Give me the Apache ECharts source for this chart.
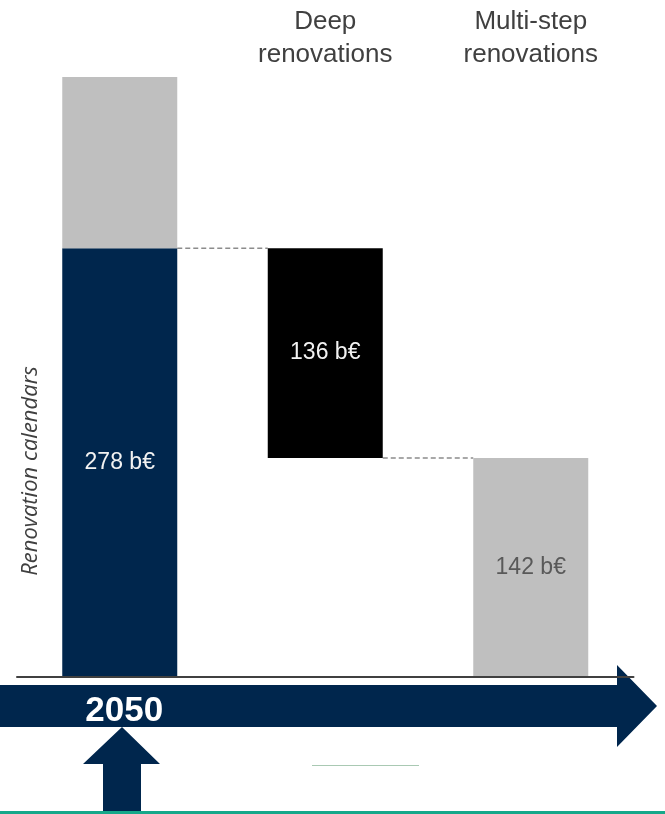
<!DOCTYPE html>
<html>
<head>
<meta charset="utf-8">
<script src="https://cdn.jsdelivr.net/npm/echarts@6/dist/echarts.min.js"></script>
<style>html,body{margin:0;padding:0;background:#fff}#c{width:665px;height:814px}</style>
</head>
<body>
<div id="c"></div>
<script>
// ---- data ----
const categories = ['2050', 'Deep\nrenovations', 'Multi-step\nrenovations'];
const bottomLabels = ['2050', '', ''];
const topLabels = ['', 'Deep\nrenovations', 'Multi-step\nrenovations'];
const calendar2050 = 278;      // b€
const calendarExtra = 111;     // grey cap above 2050 bar (unlabelled)
const deepRenov = 136;         // b€
const multiStep = 142;         // b€
const yAxisName = 'Renovation calendars';

// ---- derived series ----
const placeholder = [0, multiStep, 0];
const navyData = [calendar2050, '-', '-'];
const capData = [calendarExtra, '-', '-'];
const blackData = ['-', deepRenov, '-'];
const greyData = ['-', '-', multiStep];
const connectors = [[0, calendar2050], [1, multiStep]];

const BAR_W = 115;
const chart = echarts.init(document.getElementById('c'), null, {renderer: 'canvas'});

const labelBase = {show: true, position: 'inside', formatter: '{c} b€', fontSize: 23,
  fontFamily: 'Liberation Sans, Arial, sans-serif'};

chart.setOption({
  animation: false,
  backgroundColor: '#ffffff',
  grid: {left: 17, width: 616.5, top: 60, bottom: 137, containLabel: false},
  xAxis: [
    {type: 'category', data: bottomLabels, position: 'bottom', z: 10,
      axisLine: {show: true, lineStyle: {color: '#404040', width: 2}},
      axisTick: {show: false},
      axisLabel: {color: '#ffffff', fontSize: 35, fontWeight: 'bold', lineHeight: 35,
        fontFamily: 'Liberation Sans, Arial, sans-serif', margin: 17, padding: [0, 0, 0, 9]}},
    {type: 'category', data: topLabels, position: 'top', offset: -11,
      axisLine: {show: false}, axisTick: {show: false},
      axisLabel: {color: '#404040', fontSize: 26, lineHeight: 33, margin: 0,
        fontFamily: 'Liberation Sans, Arial, sans-serif'}}
  ],
  yAxis: {type: 'value', min: 0, max: 400, show: true,
    axisLine: {show: false}, axisTick: {show: false}, axisLabel: {show: false}, splitLine: {show: false}},
  series: [
    {type: 'bar', stack: 'w', barWidth: BAR_W, data: placeholder, itemStyle: {color: 'rgba(0,0,0,0)'}, silent: true},
    {type: 'bar', stack: 'w', barWidth: BAR_W, data: navyData, itemStyle: {color: '#00264D'},
      label: Object.assign({}, labelBase, {color: '#F2F2F2'})},
    {type: 'bar', stack: 'w', barWidth: BAR_W, data: blackData, itemStyle: {color: '#000000'},
      label: Object.assign({}, labelBase, {color: '#F2F2F2'})},
    {type: 'bar', stack: 'w', barWidth: BAR_W, data: greyData, itemStyle: {color: '#BFBFBF'},
      label: Object.assign({}, labelBase, {color: '#595959'})},
    {type: 'bar', stack: 'w', barWidth: BAR_W, data: capData, itemStyle: {color: '#BFBFBF'}},
    {type: 'custom', data: connectors, z: 1,
      renderItem: function (params, api) {
        const p = api.coord([api.value(0), api.value(1)]);
        const band = api.size([1, 0])[0];
        const x1 = p[0] + BAR_W / 2, x2 = p[0] + band - BAR_W / 2;
        return {type: 'line', shape: {x1: x1, y1: p[1], x2: x2, y2: p[1]},
          style: {stroke: '#8c8c8c', lineWidth: 1.5, lineDash: [5, 3]}};
      }}
  ],
  graphic: [
    {type: 'polygon', z: 1, shape: {points: [[0, 685], [617, 685], [617, 665], [657, 706], [617, 747], [617, 727], [0, 727]]},
      style: {fill: '#00264D'}},
    {type: 'polygon', z: 1, shape: {points: [[83, 764], [122, 727], [160, 764], [141, 764], [141, 814], [103, 814], [103, 764]]},
      style: {fill: '#00264D'}},
    {type: 'line', z: 1, shape: {x1: 312, y1: 765.5, x2: 419, y2: 765.5}, style: {stroke: '#a9c9b3', lineWidth: 1}},
    {type: 'rect', z: 1, shape: {x: 0, y: 811, width: 665, height: 3}, style: {fill: '#16A88A'}},
    {type: 'text', z: 5, x: 31, y: 471, rotation: Math.PI / 2,
      style: {text: yAxisName, fill: '#404040', font: 'italic 22px "Open Sans", sans-serif',
        align: 'center', verticalAlign: 'middle'}}
  ]
});
</script>
</body>
</html>
